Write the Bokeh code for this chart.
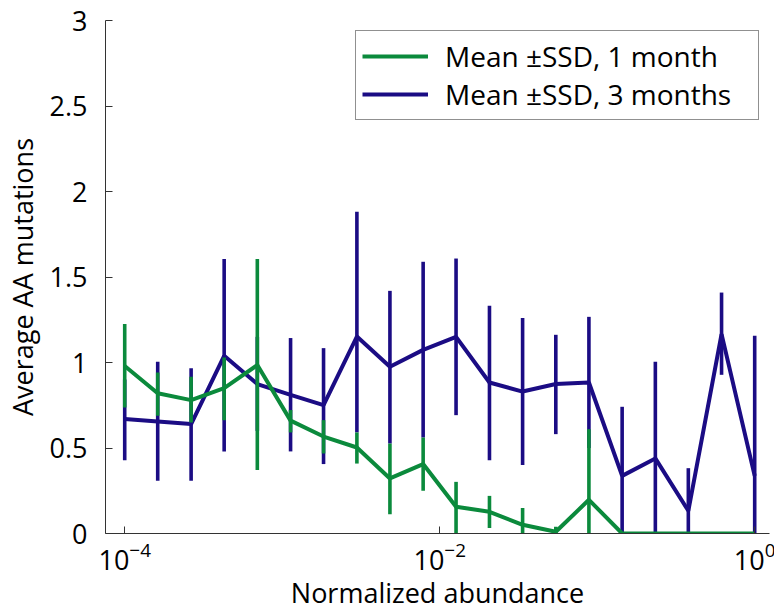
from bokeh.plotting import figure
from bokeh.models import (Range1d, FixedTicker, CustomJSTickFormatter, Legend,
                          LegendItem, ColumnDataSource)
from bokeh.embed import file_html
from bokeh.resources import INLINE

# ---- data ----
abundance = [1.00e-4, 1.62e-4, 2.64e-4, 4.28e-4, 6.95e-4, 1.13e-3, 1.83e-3,
             2.98e-3, 4.83e-3, 7.85e-3, 1.27e-2, 2.07e-2, 3.36e-2, 5.46e-2,
             8.86e-2, 0.144, 0.234, 0.379, 0.616, 1.0]

mean_1m = [0.98, 0.82, 0.78, 0.85, 0.985, 0.66, 0.567, 0.503, 0.322, 0.406,
           0.156, 0.127, 0.051, 0.01, 0.197, 0.0, 0.0, 0.0, 0.0, 0.0]
upper_1m = [1.225, 0.942, 0.916, 1.029, 1.605, 0.722, 0.663, 0.591, 0.526, 0.561,
            0.302, 0.22, 0.149, 0.04, 0.61, 0.0, 0.0, 0.0, 0.0, 0.0]
lower_1m = [0.737, 0.688, 0.649, 0.663, 0.371, 0.591, 0.468, 0.409, 0.113, 0.25,
            -0.01, 0.032, -0.05, -0.02, -0.22, 0.0, 0.0, 0.0, 0.0, 0.0]

mean_3m = [0.669, 0.655, 0.64, 1.039, 0.874, 0.811, 0.751, 1.152, 0.975, 1.074,
           1.15, 0.883, 0.83, 0.874, 0.883, 0.337, 0.439, 0.133, 1.166, 0.337]
upper_3m = [0.9, 1.004, 0.967, 1.605, 1.15, 1.143, 1.084, 1.881, 1.419, 1.589,
            1.608, 1.332, 1.26, 1.162, 1.267, 0.741, 1.004, 0.382, 1.409, 1.156]
lower_3m = [0.429, 0.308, 0.308, 0.48, 0.6, 0.48, 0.406, 0.591, 0.526, 0.561,
            0.692, 0.429, 0.4, 0.581, 0.5, -0.07, -0.13, -0.12, 0.928, -0.48]

label_1m = "Mean \u00b1SSD, 1 month"
label_3m = "Mean \u00b1SSD, 3 months"
x_label = "Normalized abundance"
y_label = "Average AA mutations"
x_ticks = [1e-4, 1e-2, 1.0]
y_ticks = [0, 0.5, 1, 1.5, 2, 2.5, 3]

GREEN = "#0b8a3c"
BLUE = "#1b0c84"
FONT = "Open Sans"
AXIS_COLOR = "#333333"

p = figure(frame_width=664, frame_height=513, x_axis_type="log",
           x_range=Range1d(10 ** -4.122, 10 ** 0.094), y_range=Range1d(0, 3),
           output_backend="svg", toolbar_location=None,
           min_border_left=103, min_border_right=7, min_border_top=20,
           min_border_bottom=80)
p.outline_line_color = None
p.xgrid.visible = False
p.ygrid.visible = False
p.background_fill_color = "white"
p.border_fill_color = "white"

src1 = ColumnDataSource(dict(x=abundance, m=mean_1m, lo=lower_1m, hi=upper_1m))
src3 = ColumnDataSource(dict(x=abundance, m=mean_3m, lo=lower_3m, hi=upper_3m))

# 3 months (drawn first, underneath)
p.segment(x0="x", y0="lo", x1="x", y1="hi", source=src3, line_color=BLUE,
          line_width=3.6)
r3 = p.line("x", "m", source=src3, line_color=BLUE, line_width=4)
# 1 month (on top)
p.segment(x0="x", y0="lo", x1="x", y1="hi", source=src1, line_color=GREEN,
          line_width=3.6)
r1 = p.line("x", "m", source=src1, line_color=GREEN, line_width=4)

# axes
p.xaxis.ticker = FixedTicker(ticks=x_ticks, minor_ticks=[])
p.yaxis.ticker = FixedTicker(ticks=y_ticks, minor_ticks=[])
p.yaxis.formatter = CustomJSTickFormatter(code="return String(Math.round(tick*10)/10)")
for ax in (p.xaxis[0], p.yaxis[0]):
    ax.major_tick_in = 7
    ax.major_tick_out = 0
    ax.minor_tick_in = 0
    ax.minor_tick_out = 0
    ax.axis_line_color = AXIS_COLOR
    ax.major_tick_line_color = AXIS_COLOR
    ax.major_label_text_font = FONT
    ax.major_label_text_font_size = "27px"
    ax.major_label_text_color = "black"
    ax.axis_label_text_font = FONT
    ax.axis_label_text_font_size = "27px"
    ax.axis_label_text_font_style = "normal"
    ax.axis_label_text_color = "black"
p.xaxis.axis_label = x_label
p.yaxis.axis_label = y_label
p.yaxis.major_label_standoff = 18
p.yaxis.axis_label_standoff = 6
p.xaxis.major_label_standoff = 8
p.xaxis.axis_label_standoff = 1

legend = Legend(items=[LegendItem(label=label_1m, renderers=[r1]),
                       LegendItem(label=label_3m, renderers=[r3])],
                location="top_right")
legend.label_text_font = FONT
legend.label_text_font_size = "28px"
legend.label_text_color = "black"
legend.padding = 6
legend.spacing = 0
legend.glyph_width = 66
legend.glyph_height = 30
legend.label_height = 30
legend.label_standoff = 17
legend.label_width = 307
legend.border_line_color = "#222222"
legend.border_line_width = 1
legend.background_fill_alpha = 1
legend.margin = 10
p.add_layout(legend)

open("out.html", "w").write(file_html(p, INLINE))
